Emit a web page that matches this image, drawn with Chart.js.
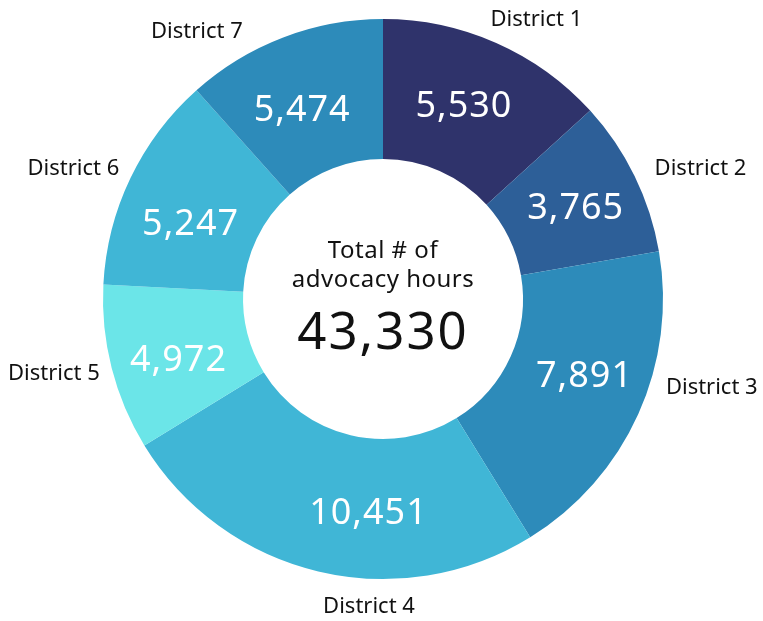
<!DOCTYPE html>
<html>
<head>
<meta charset="utf-8">
<script src="https://cdn.jsdelivr.net/npm/chart.js@4"></script>
<style>
  html, body { margin: 0; padding: 0; background: #ffffff; }
  #wrap { width: 763px; height: 621px; position: relative; }
</style>
</head>
<body>
<div id="wrap"><canvas id="c" width="763" height="621"></canvas></div>
<script>
// Categories and printed values (as written on the chart)
const categories = ["District 1", "District 2", "District 3", "District 4", "District 5", "District 6", "District 7"];
const printedHours = [5530, 3765, 7891, 10451, 4972, 5247, 5474];
// Slice sizes as drawn in the picture (District 5 and 7 slices are drawn smaller than their printed values)
const sliceHours = [5530, 3765, 7891, 10451, 4000, 5247, 4840];
const sliceColors = ["#2F336B", "#2D5F98", "#2D8BBA", "#40B6D6", "#6BE5E8", "#40B6D6", "#2D8BBA"];
const centerTitle = ["Total # of", "advocacy hours"];
const totalHours = printedHours.reduce((a, b) => a + b, 0);

// layout nudges for labels (manual placement in the original)
const labelNudge = [[24, 13], [30, 10], [37, -43], [60, -4], [-19, -4], [-21, 8], [-72, 32]];
const valueNudge = [[-4, -1], [4, 1], [10, -9], [34, 9], [-1, 9], [-3, 16], [-6, 7]];

const FONT = "'Noto Sans', 'Open Sans', sans-serif";
const fmt = v => v.toLocaleString("en-US");

const labelPlugin = {
  id: "labels",
  afterDatasetsDraw(chart) {
    const ctx = chart.ctx;
    const meta = chart.getDatasetMeta(0);
    ctx.save();
    meta.data.forEach((arc, i) => {
      const p = arc.getProps(["x", "y", "startAngle", "endAngle", "innerRadius", "outerRadius"], true);
      const mid = (p.startAngle + p.endAngle) / 2;
      const rMid = (p.innerRadius + p.outerRadius) / 2;
      ctx.textAlign = "center";
      ctx.textBaseline = "middle";
      // value label
      ctx.fillStyle = "#ffffff";
      ctx.font = "36px " + FONT;
      ctx.letterSpacing = "1px";
      ctx.fillText(fmt(printedHours[i]),
        p.x + Math.cos(mid) * rMid + valueNudge[i][0],
        p.y + Math.sin(mid) * rMid + 1 + valueNudge[i][1]);
      // category label
      const rOut = p.outerRadius + 40;
      ctx.fillStyle = "#111111";
      ctx.font = "22px " + FONT;
      ctx.letterSpacing = "0px";
      ctx.fillText(categories[i],
        p.x + Math.cos(mid) * rOut + labelNudge[i][0],
        p.y + Math.sin(mid) * rOut + labelNudge[i][1]);
    });
    // center text
    const a0 = meta.data[0];
    ctx.fillStyle = "#111111";
    ctx.textAlign = "center";
    ctx.textBaseline = "middle";
    ctx.font = "24px " + FONT;
    ctx.letterSpacing = "0.5px";
    ctx.fillText(centerTitle[0], a0.x, a0.y - 48);
    ctx.fillText(centerTitle[1], a0.x, a0.y - 19);
    ctx.font = "51px " + FONT;
    ctx.letterSpacing = "2px";
    ctx.fillText(fmt(totalHours), a0.x, a0.y + 35);
    ctx.restore();
  }
};

new Chart(document.getElementById("c"), {
  type: "doughnut",
  data: {
    labels: categories,
    datasets: [{
      data: sliceHours,
      backgroundColor: sliceColors,
      borderWidth: 0
    }]
  },
  options: {
    responsive: false,
    animation: false,
    cutout: "50%",
    layout: { padding: { left: 103, right: 100, top: 19, bottom: 42 } },
    plugins: { legend: { display: false }, tooltip: { enabled: false } }
  },
  plugins: [labelPlugin]
});
</script>
</body>
</html>
